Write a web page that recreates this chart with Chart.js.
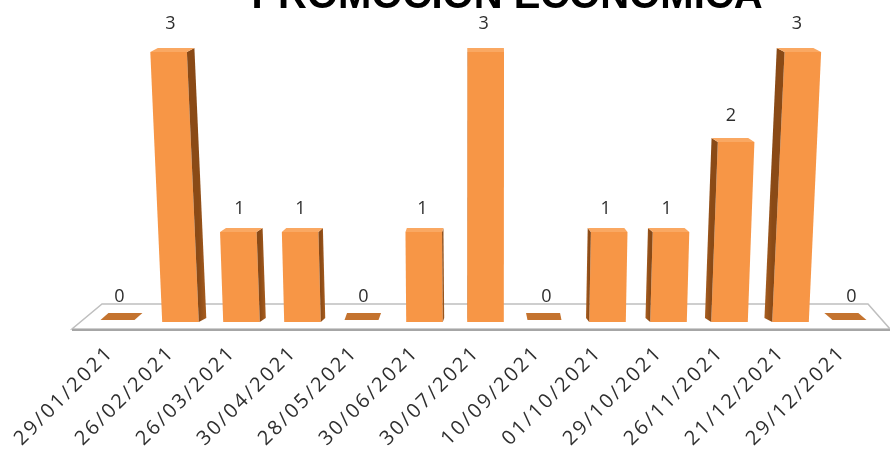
<!DOCTYPE html>
<html>
<head>
<meta charset="utf-8">
<script src="https://cdn.jsdelivr.net/npm/chart.js@4"></script>
<style>
html,body{margin:0;padding:0;background:#fff;overflow:hidden;}
#wrap{width:890px;height:457px;position:relative;}
</style>
</head>
<body>
<div id="wrap"><canvas id="c" width="890" height="457"></canvas></div>
<script>
const chartTitle = "PROMOCIÓN ECONÓMICA";
const categories = ["29/01/2021","26/02/2021","26/03/2021","30/04/2021","28/05/2021","30/06/2021","30/07/2021","10/09/2021","01/10/2021","29/10/2021","26/11/2021","21/12/2021","29/12/2021"];
const values = [0,3,1,1,0,1,3,0,1,1,2,3,0];

const FRONT = "#F79646";
const SIDE = "#A95E1F";
const TOP = "#FAA862";
const FLAT = "#C4732F";
const LABEL = "#2E2E2E";
const VANISH_X = 480;

const threeD = {
  id: "threeD",
  beforeDatasetsDraw(chart) {
    const ctx = chart.ctx, a = chart.chartArea;
    const y0 = chart.scales.y.getPixelForValue(0);
    const backY = y0 - 18, frontY = y0 + 7;
    ctx.save();
    ctx.letterSpacing = "0px";
    ctx.beginPath();
    ctx.moveTo(a.left + 13, backY);
    ctx.lineTo(a.right - 14, backY);
    ctx.lineTo(a.right + 8, frontY);
    ctx.lineTo(a.left - 17, frontY);
    ctx.closePath();
    ctx.fillStyle = "#ffffff";
    ctx.fill();
    ctx.strokeStyle = "#BFBFBF";
    ctx.lineWidth = 1.5;
    ctx.stroke();
    ctx.beginPath();
    ctx.moveTo(a.left - 17, frontY + 1);
    ctx.lineTo(a.right + 8, frontY + 1);
    ctx.strokeStyle = "#A6A6A6";
    ctx.lineWidth = 2;
    ctx.stroke();
    ctx.restore();
  },
  // the bars are drawn below in 3D from the library's own bar geometry
  beforeDatasetDraw() { return false; },
  afterDatasetsDraw(chart) {
    const ctx = chart.ctx;
    const meta = chart.getDatasetMeta(0);
    const y0 = chart.scales.y.getPixelForValue(0);
    ctx.save();
    ctx.letterSpacing = "0px";
    meta.data.forEach((bar, i) => {
      const v = values[i];
      const x = bar.x, w = bar.width, top = bar.y, base = bar.base;
      const lean = (x - VANISH_X) * 0.04 * (base - top) / 272;
      let labelX = x;
      if (v > 0) {
        const d = (VANISH_X - x) * 0.025;
        const rise = 4;
        const L0 = x - w / 2, R0 = x + w / 2;
        const L1 = L0 + lean, R1 = R0 + lean;
        // front face
        ctx.beginPath();
        ctx.moveTo(L0, base);
        ctx.lineTo(R0, base);
        ctx.lineTo(R1, top);
        ctx.lineTo(L1, top);
        ctx.closePath();
        ctx.fillStyle = FRONT;
        ctx.fill();
        // side face
        const e0 = d >= 0 ? R0 : L0, e1 = d >= 0 ? R1 : L1;
        const g = ctx.createLinearGradient(e0, 0, e0 + d, 0);
        g.addColorStop(0, "#8A4A16");
        g.addColorStop(1, SIDE);
        ctx.beginPath();
        ctx.moveTo(e1, top);
        ctx.lineTo(e1 + d, top - rise);
        ctx.lineTo(e0 + d, base - rise);
        ctx.lineTo(e0, base);
        ctx.closePath();
        ctx.fillStyle = g;
        ctx.fill();
        // top face
        ctx.beginPath();
        ctx.moveTo(L1, top);
        ctx.lineTo(R1, top);
        ctx.lineTo(R1 + d, top - rise);
        ctx.lineTo(L1 + d, top - rise);
        ctx.closePath();
        ctx.fillStyle = TOP;
        ctx.fill();
        labelX = x + lean + d / 2 - 2;
      } else {
        const s = (VANISH_X - x) * 0.022;
        const bY = y0 - 2, tY = y0 - 9;
        ctx.beginPath();
        ctx.moveTo(x - 19, bY);
        ctx.lineTo(x + 15, bY);
        ctx.lineTo(x + 15 + s, tY);
        ctx.lineTo(x - 19 + s, tY);
        ctx.closePath();
        ctx.fillStyle = FLAT;
        ctx.fill();
      }
      ctx.fillStyle = LABEL;
      ctx.font = "18px 'Open Sans', sans-serif";
      ctx.textAlign = "center";
      ctx.textBaseline = "alphabetic";
      ctx.fillText(String(v), labelX, v > 0 ? top - (16 + 2.3 * v) : base - 20);
    });
    ctx.restore();
  },
  afterDraw(chart) {
    const ctx = chart.ctx;
    ctx.save();
    ctx.letterSpacing = "0px";
    ctx.fillStyle = "#000000";
    ctx.font = "bold 40px 'Liberation Sans', Arial, sans-serif";
    ctx.textAlign = "center";
    ctx.textBaseline = "alphabetic";
    ctx.fillText(chartTitle, 507, 8);
    ctx.restore();
  }
};

const letterSpacingPlugin = {
  id: "ls",
  beforeDraw(chart) { chart.ctx.letterSpacing = "2.5px"; }
};

new Chart(document.getElementById("c"), {
  type: "bar",
  data: {
    labels: categories,
    datasets: [{
      data: values,
      backgroundColor: FRONT,
      borderWidth: 0,
      barPercentage: 0.6,
      categoryPercentage: 1.0
    }]
  },
  options: {
    responsive: false,
    animation: false,
    devicePixelRatio: 1,
    layout: { padding: { left: 89, right: 8, top: 52, bottom: 0 } },
    plugins: { legend: { display: false }, tooltip: { enabled: false }, title: { display: false } },
    scales: {
      x: {
        grid: { display: false },
        border: { display: false },
        afterFit: s => { s.height = 135; },
        ticks: {
          color: LABEL,
          font: { family: "'Open Sans', sans-serif", size: 20 },
          minRotation: 45,
          maxRotation: 45,
          autoSkip: false,
          labelOffset: -9,
          padding: 11
        }
      },
      y: {
        display: false,
        min: 0,
        max: 3
      }
    }
  },
  plugins: [letterSpacingPlugin, threeD]
});
</script>
</body>
</html>
